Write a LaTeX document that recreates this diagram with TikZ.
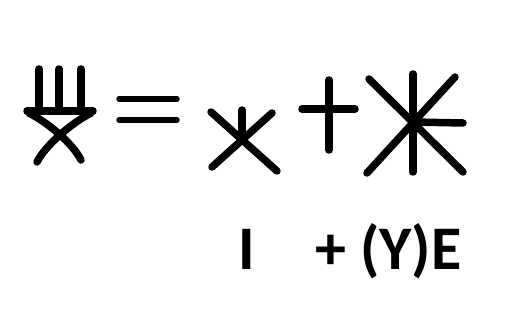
\documentclass[tikz,border=0pt]{standalone}
\usepackage{fontspec}
\setmainfont{Carlito}
\begin{document}
\begin{tikzpicture}[x=1pt,y=-1pt,
  stroke/.style={line width=7.5pt,line cap=round,black},
  thin stroke/.style={line width=5.5pt,line cap=round,black},
  lbl/.style={anchor=base west,inner sep=0pt,font=\fontsize{62}{64}\selectfont\bfseries}]
\useasboundingbox (0,0) rectangle (531,320);
% first glyph
\coordinate (p1t) at (39,69); \coordinate (p1b) at (39,110);
\coordinate (p2t) at (59,69); \coordinate (p2b) at (59,110);
\coordinate (p3t) at (81,69); \coordinate (p3b) at (81,110);
\coordinate (barL) at (27,111); \coordinate (barR) at (93,111);
\coordinate (xL) at (37,162); \coordinate (xR) at (81,160);
\draw[stroke] (p1t) -- (p1b);
\draw[stroke] (p2t) -- (p2b);
\draw[stroke] (p3t) -- (p3b);
\draw[stroke] (barL) -- (barR);
\draw[stroke] (29,113) .. controls (50,124) and (73,144) .. (xR);
\draw[stroke] (91,113) .. controls (70,124) and (45,146) .. (xL);
% equal sign
\coordinate (e1a) at (119,99); \coordinate (e1b) at (177,99);
\coordinate (e2a) at (119,120); \coordinate (e2b) at (177,120);
\draw[thin stroke] (e1a) -- (e1b);
\draw[thin stroke] (e2a) -- (e2b);
% second glyph
\coordinate (c2) at (242,139);
\draw[stroke] (211,112) -- (277,171);
\draw[stroke] (272,113) -- (212,167);
\draw[stroke] (242,110) -- (c2);
% plus
\coordinate (pl) at (302,109); \coordinate (pr) at (355,109);
\coordinate (pt) at (329,80); \coordinate (pb) at (329,150);
\draw[stroke] (pl) -- (pr);
\draw[stroke] (pt) -- (pb);
% star glyph
\coordinate (c3) at (413,122);
\draw[stroke] (413,74) -- (413,172);
\draw[stroke] (369,79) -- (463,172);
\draw[stroke] (455,77) -- (367,173);
\draw[stroke] (c3) -- (463,123);
% labels
\node[lbl] (t1) at (238,270) {I};
\node[lbl] (t2) at (315,270) {+ (Y)E};
\end{tikzpicture}
\end{document}
